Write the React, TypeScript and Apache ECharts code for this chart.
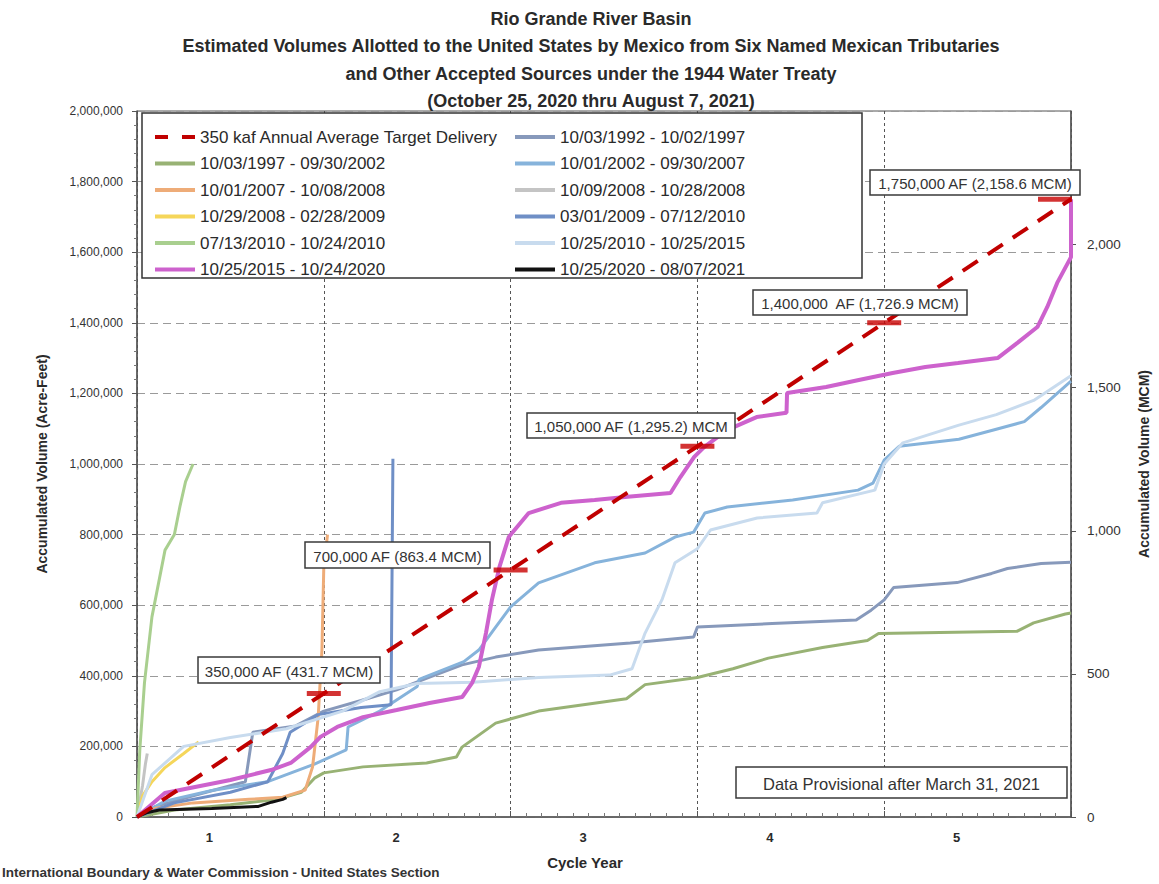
import React, { useEffect, useRef } from "react";
import * as echarts from "echarts";

const FONT = '"Liberation Sans", Arial, Helvetica, sans-serif';

// ---------- data (cycle year, accumulated acre-feet) ----------
const YEAR_LABELS = ["1", "2", "3", "4", "5"];
const AF_TO_MCM = 0.00123348;

const TARGET_LINE = [[0, 0], [5, 1750000]];
const TARGET_YEARS = [1, 2, 3, 4, 5];
const TARGET_VOLUMES = [350000, 700000, 1050000, 1400000, 1750000];
const TARGET_LABELS = [
  "350,000 AF (431.7 MCM)",
  "700,000 AF (863.4 MCM)",
  "1,050,000 AF (1,295.2) MCM",
  "1,400,000  AF (1,726.9 MCM)",
  "1,750,000 AF (2,158.6 MCM)",
];
const NOTE_TEXT = "Data Provisional after March 31, 2021";

const S1992 = [[0, 0], [0.1, 30000], [0.3, 60000], [0.58, 100000], [0.62, 240000], [0.85, 258000], [1.0, 300000], [1.2, 330000], [1.39, 360000], [1.57, 397000], [1.74, 431000], [1.92, 453000], [2.15, 473000], [2.64, 493000], [2.98, 510000], [3.0, 538000], [3.4, 548000], [3.85, 558000], [3.93, 586000], [4.0, 615000], [4.05, 650000], [4.39, 664000], [4.575, 690000], [4.66, 704000], [4.84, 718000], [5.0, 722000]];
const S1997 = [[0, 0], [0.2, 20000], [0.5, 35000], [0.75, 50000], [0.88, 70000], [0.95, 110000], [1.0, 125000], [1.21, 142000], [1.55, 153000], [1.71, 170000], [1.74, 198000], [1.92, 266000], [2.15, 300000], [2.62, 335000], [2.72, 375000], [3.0, 395000], [3.19, 420000], [3.38, 450000], [3.67, 480000], [3.91, 500000], [3.97, 520000], [4.71, 526000], [4.8, 550000], [4.97, 575000], [5.0, 578000]];
const S2002 = [[0, 0], [0.15, 45000], [0.4, 75000], [0.7, 100000], [0.95, 150000], [1.12, 190000], [1.13, 255000], [1.3, 300000], [1.5, 370000], [1.51, 390000], [1.75, 440000], [1.83, 473000], [1.92, 538000], [2.0, 595000], [2.15, 663000], [2.45, 720000], [2.72, 748000], [2.88, 793000], [2.98, 807000], [3.04, 861000], [3.16, 878000], [3.51, 898000], [3.86, 926000], [3.94, 946000], [4.0, 1011000], [4.08, 1050000], [4.4, 1070000], [4.575, 1095000], [4.75, 1120000], [4.84, 1160000], [5.0, 1235000]];
const S2007 = [[0, 0], [0.1, 25000], [0.3, 40000], [0.6, 50000], [0.78, 56000], [0.9, 76000], [0.94, 142000], [0.97, 283000], [0.99, 473000], [1.0, 708000], [1.02, 800000]];
const S2008A = [[0, 0], [0.01, 30000], [0.03, 90000], [0.045, 150000], [0.055, 180000]];
const S2008B = [[0, 0], [0.03, 60000], [0.08, 100000], [0.15, 140000], [0.25, 180000], [0.33, 213000]];
const S2009 = [[0, 0], [0.2, 40000], [0.5, 70000], [0.7, 100000], [0.78, 180000], [0.82, 240000], [0.97, 290000], [1.2, 310000], [1.36, 318000], [1.37, 1015000]];
const S2010A = [[0, 0], [0.015, 190000], [0.04, 380000], [0.08, 567000], [0.15, 756000], [0.2, 800000], [0.23, 880000], [0.26, 950000], [0.3, 1000000]];
const S2010B = [[0, 0], [0.08, 120000], [0.25, 200000], [0.5, 225000], [0.8, 250000], [1.1, 300000], [1.3, 355000], [1.5, 378000], [1.8, 382000], [2.15, 395000], [2.53, 402000], [2.65, 420000], [2.72, 521000], [2.81, 615000], [2.88, 720000], [3.0, 760000], [3.07, 813000], [3.32, 847000], [3.64, 861000], [3.67, 890000], [3.95, 926000], [4.0, 1000000], [4.1, 1060000], [4.4, 1110000], [4.6, 1140000], [4.8, 1180000], [5.0, 1250000]];
const S2015 = [[0, 0], [0.149, 68000], [0.5, 105000], [0.717, 133000], [0.823, 153000], [0.929, 198000], [0.982, 227000], [1.072, 255000], [1.21, 283000], [1.39, 303000], [1.566, 323000], [1.741, 340000], [1.794, 380000], [1.83, 425000], [1.868, 521000], [1.9, 615000], [1.94, 708000], [1.99, 793000], [2.097, 861000], [2.27, 890000], [2.45, 898000], [2.627, 907000], [2.856, 918000], [2.909, 963000], [2.983, 1020000], [3.036, 1048000], [3.158, 1096000], [3.317, 1133000], [3.477, 1145000], [3.48, 1201000], [3.689, 1218000], [3.864, 1238000], [4.045, 1258000], [4.22, 1275000], [4.395, 1286000], [4.607, 1300000], [4.713, 1343000], [4.82, 1388000], [4.873, 1445000], [4.926, 1513000], [5.0, 1586000], [5.0, 1750000]];
const S2020 = [[0, 0], [0.05, 12000], [0.12, 20000], [0.4, 24000], [0.65, 30000], [0.72, 42000], [0.78, 50000], [0.8, 55000]];

const TARGET_NAME = "350 kaf Annual Average Target Delivery";
const LEGEND_LEFT = [TARGET_NAME, "10/03/1997 - 09/30/2002", "10/01/2007 - 10/08/2008", "10/29/2008 - 02/28/2009", "07/13/2010 - 10/24/2010", "10/25/2015 - 10/24/2020"];
const LEGEND_RIGHT = ["10/03/1992 - 10/02/1997", "10/01/2002 - 09/30/2007", "10/09/2008 - 10/28/2008", "03/01/2009 - 07/12/2010", "10/25/2010 - 10/25/2015", "10/25/2020 - 08/07/2021"];

const SERIES_DEF = [
  { name: "10/03/1992 - 10/02/1997", data: S1992, color: "#8799bb", width: 3 },
  { name: "10/03/1997 - 09/30/2002", data: S1997, color: "#98b274", width: 3 },
  { name: "10/01/2002 - 09/30/2007", data: S2002, color: "#86b3db", width: 3 },
  { name: "10/01/2007 - 10/08/2008", data: S2007, color: "#eeac78", width: 3 },
  { name: "10/09/2008 - 10/28/2008", data: S2008A, color: "#c4c4c4", width: 3 },
  { name: "10/29/2008 - 02/28/2009", data: S2008B, color: "#f5d65a", width: 3 },
  { name: "03/01/2009 - 07/12/2010", data: S2009, color: "#6f8fc6", width: 3 },
  { name: "07/13/2010 - 10/24/2010", data: S2010A, color: "#a9cf8f", width: 3 },
  { name: "10/25/2010 - 10/25/2015", data: S2010B, color: "#c8dbee", width: 3 },
  { name: "10/25/2015 - 10/24/2020", data: S2015, color: "#cd62cd", width: 4 },
  { name: "10/25/2020 - 08/07/2021", data: S2020, color: "#111111", width: 3 },
];

const fmt = (v: number) => String(Math.round(v)).replace(/\B(?=(\d{3})+(?!\d))/g, ",");

// annotation boxes: [x, y, w, h] in px
const LABEL_BOXES = [
  [198, 657, 182, 26],
  [305, 542, 185, 26],
  [527, 413, 208, 25],
  [753, 290, 214, 25],
  [870, 170, 210, 25],
];
const NOTE_BOX = [736, 767, 331, 31];

function boxGraphic(box: number[], text: string, size: number) {
  const [x, y, w, h] = box;
  return [
    {
      type: "rect",
      z: 20,
      shape: { x, y, width: w, height: h },
      style: { fill: "#ffffff", stroke: "#3a3a3a", lineWidth: 1.5 },
    },
    {
      type: "text",
      z: 21,
      x: x + w / 2,
      y: y + h / 2 + 1,
      style: {
        text,
        align: "center",
        verticalAlign: "middle",
        fontSize: size,
        fontFamily: FONT,
        fill: "#333333",
      },
    },
  ];
}

function buildOption() {
  const lineSeries: any[] = SERIES_DEF.map((s) => ({
    name: s.name,
    type: "line",
    data: s.data,
    showSymbol: false,
    symbol: "none",
    silent: true,
    z: 3,
    lineStyle: { color: s.color, width: s.width },
    itemStyle: { color: s.color },
  }));

  lineSeries.push({
    name: TARGET_NAME,
    type: "line",
    data: TARGET_LINE,
    showSymbol: false,
    symbol: "none",
    silent: true,
    z: 6,
    lineStyle: { color: "#c00000", width: 4, type: [18, 12] },
    itemStyle: { color: "#c00000" },
  });

  lineSeries.push({
    name: "targets",
    type: "scatter",
    silent: true,
    z: 7,
    symbol: "rect",
    symbolSize: [34, 5],
    itemStyle: { color: "#c80000" },
    data: TARGET_YEARS.map((yr, i) => ({
      value: [yr, TARGET_VOLUMES[i]],
      symbolOffset: i === TARGET_YEARS.length - 1 ? [-16, 0] : [0, 0],
    })),
  });

  const legendCommon = {
    orient: "vertical",
    top: 123,
    icon: "rect",
    itemWidth: 40,
    itemHeight: 4,
    itemGap: 8.5,
    selectedMode: false,
    z: 10,
    textStyle: { fontSize: 17, color: "#2a2a2a", fontFamily: FONT, lineHeight: 18 },
  };

  const leftLegendData = LEGEND_LEFT.map((n) =>
    n === TARGET_NAME ? { name: n, icon: "path://M0,0H13V4H0Z M27,0H40V4H27Z" } : { name: n }
  );

  const graphic: any[] = [
    {
      type: "rect",
      z: 8,
      shape: { x: 142, y: 113, width: 720, height: 165 },
      style: { fill: "#ffffff", stroke: "#333333", lineWidth: 1.5 },
    },
    {
      type: "text",
      z: 10,
      x: 2,
      y: 872,
      style: {
        text: "International Boundary & Water Commission - United States Section",
        fontSize: 13.5,
        fontWeight: "bold",
        fontFamily: FONT,
        fill: "#333333",
        verticalAlign: "middle",
      },
    },
  ];
  LABEL_BOXES.forEach((b, i) => graphic.push(...boxGraphic(b, TARGET_LABELS[i], 15)));
  graphic.push(...boxGraphic(NOTE_BOX, NOTE_TEXT, 16.5));

  return {
    animation: false,
    backgroundColor: "#ffffff",
    textStyle: { fontFamily: FONT },
    title: {
      text:
        "Rio Grande River Basin\nEstimated Volumes Allotted to the United States by Mexico from Six Named Mexican Tributaries\nand Other Accepted Sources under the 1944 Water Treaty\n(October 25, 2020 thru August 7, 2021)",
      left: 591,
      top: 5,
      textAlign: "center",
      padding: 0,
      textStyle: { fontSize: 18, fontWeight: "bold", color: "#2a2a2a", lineHeight: 27.5, fontFamily: FONT },
    },
    grid: {
      left: 137,
      top: 111,
      width: 940,
      height: 706,
      show: true,
      borderColor: "#555555",
      borderWidth: 1,
      backgroundColor: "transparent",
    },
    legend: [
      { ...legendCommon, left: 150, data: leftLegendData },
      { ...legendCommon, left: 510, data: LEGEND_RIGHT },
    ],
    xAxis: [
      {
        type: "value",
        min: 0,
        max: 5,
        interval: 1,
        axisLine: { show: true, lineStyle: { color: "#555555", width: 1.5 } },
        axisTick: { show: true, inside: true, length: 6, lineStyle: { color: "#555555" } },
        minorTick: { show: true, splitNumber: 12, length: 4, lineStyle: { color: "#777777" } },
        axisLabel: { show: false },
        splitLine: { show: true, lineStyle: { color: "#555555", width: 1, type: [3, 3] } },
      },
      {
        type: "category",
        data: YEAR_LABELS,
        position: "bottom",
        boundaryGap: true,
        axisLine: { show: false },
        axisTick: { show: false },
        splitLine: { show: false },
        axisLabel: {
          fontSize: 13,
          fontWeight: "bold",
          color: "#2a2a2a",
          margin: 14,
          padding: [0, 42, 0, 0],
        },
        name: "Cycle Year",
        nameLocation: "middle",
        nameGap: 38,
        nameTextStyle: { fontSize: 15, fontWeight: "bold", color: "#2a2a2a", padding: [0, 38, 0, 0] },
      },
    ],
    yAxis: [
      {
        type: "value",
        min: 0,
        max: 2000000,
        interval: 200000,
        axisLine: { show: true, lineStyle: { color: "#555555", width: 1.5 } },
        axisTick: { show: true, length: 5, lineStyle: { color: "#555555" } },
        minorTick: { show: true, splitNumber: 5, length: 3, lineStyle: { color: "#777777" } },
        axisLabel: { formatter: fmt, fontSize: 12, color: "#333333", margin: 14 },
        splitLine: { show: true, lineStyle: { color: "#9a9a9a", width: 1, type: [8, 5] } },
        name: "Accumulated Volume (Acre-Feet)",
        nameLocation: "middle",
        nameRotate: 90,
        nameGap: 88,
        nameTextStyle: { fontSize: 14, fontWeight: "bold", color: "#2a2a2a" },
      },
      {
        type: "value",
        position: "right",
        min: 0,
        max: 2000000 * AF_TO_MCM,
        interval: 500,
        axisLine: { show: true, lineStyle: { color: "#555555", width: 1.5 } },
        axisTick: { show: true, length: 5, lineStyle: { color: "#555555" } },
        axisLabel: { formatter: fmt, fontSize: 13.5, color: "#333333", margin: 16, showMaxLabel: false },
        splitLine: { show: false },
        name: "Accumulated Volume (MCM)",
        nameLocation: "middle",
        nameRotate: 90,
        nameGap: 66,
        nameTextStyle: { fontSize: 14, fontWeight: "bold", color: "#2a2a2a" },
      },
    ],
    series: lineSeries,
    graphic,
  };
}

export default function App() {
  const ref = useRef<HTMLDivElement>(null);
  useEffect(() => {
    if (!ref.current) return;
    const chart = echarts.init(ref.current, null, { renderer: "svg" });
    chart.setOption(buildOption() as any);
    return () => chart.dispose();
  }, []);
  return (
    <div
      ref={ref}
      style={{ position: "absolute", left: 0, top: 0, width: 1159, height: 884, background: "#ffffff" }}
    />
  );
}
